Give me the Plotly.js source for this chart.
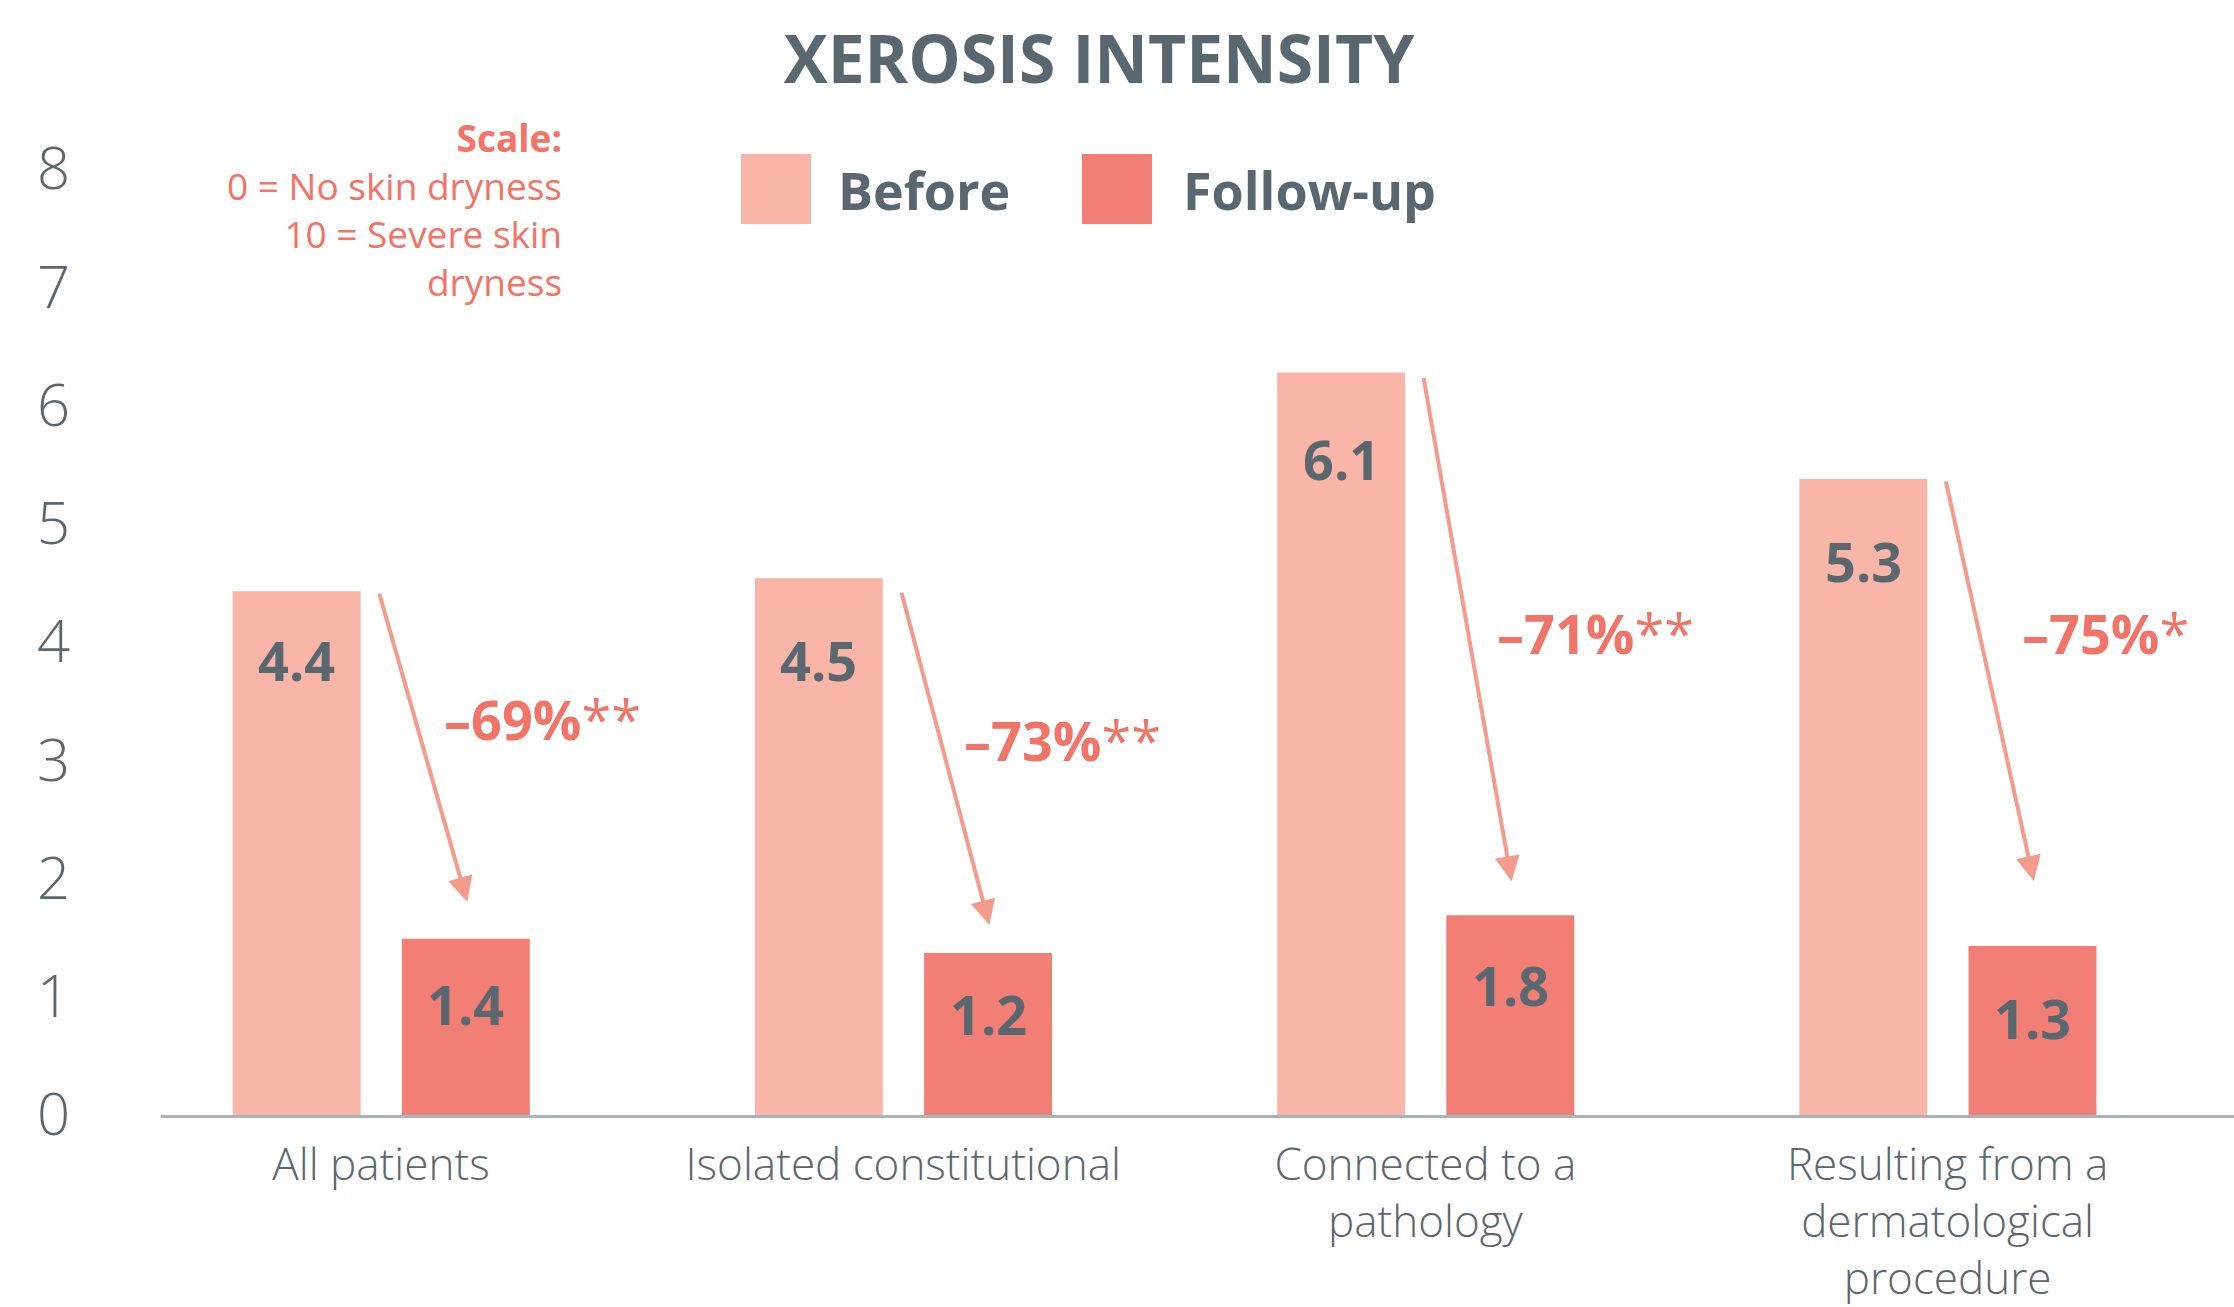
<!DOCTYPE html>
<html>
<head>
<meta charset="utf-8">
<script src="https://cdn.plot.ly/plotly-3.0.1.min.js"></script>
<style>
  html, body { margin: 0; padding: 0; background: #ffffff; }
  #chart { width: 2234px; height: 1307px; }
</style>
</head>
<body>
<div id="chart"></div>
<script>
// ---------- data ----------
const categories = ['All patients', 'Isolated constitutional', 'Connected to a pathology', 'Resulting from a dermatological procedure'];
const tickLabels = ['All patients', 'Isolated constitutional', 'Connected to a<br>pathology', 'Resulting from a<br>dermatological<br>procedure'];
const beforeValues = [4.43, 4.54, 6.28, 5.38];
const followUpValues = [1.49, 1.37, 1.69, 1.43];
const beforeLabels = ['4.4', '4.5', '6.1', '5.3'];
const followUpLabels = ['1.4', '1.2', '1.8', '1.3'];
const changeLabels = ['–69%', '–73%', '–71%', '–75%'];
const significance = ['**', '**', '**', '*'];
const yTicks = [0, 1, 2, 3, 4, 5, 6, 7, 8];
const seriesNames = ['Before', 'Follow-up'];
const scaleNote = ['Scale:', '0 = No skin dryness', '10 = Severe skin', 'dryness'];

// ---------- layout constants (positions / styles) ----------
const W = 2234, H = 1307;
const M = { l: 161, r: 0, t: 110, b: 192 };
const Y_MAX = 8.5;
const plotH = H - M.t - M.b;
const pxPerUnit = plotH / Y_MAX;
const FONT = '"Open Sans", "Noto Sans", sans-serif';
const SLATE = '#5b676f';
const C_BEFORE = '#f8b5a8';
const C_FOLLOW = '#f27f75';
const C_ARROW = '#f49b8c';
const C_PCT = '#f07468';
const BAR_W = 0.245, OFF_BEFORE = -0.284, OFF_FOLLOW = 0.040;
const labelOffsetBefore = [69, 82, 87, 82];
const labelOffsetFollow = [65, 61, 70, 72];
const arrowStartGap = [1, 13, 4, 1];
const arrowTipGap = [37, 28, 34, 65];
const arrowTipDx = 0.165;
const pctDx = [0.116, 0.113, 0.133, 0.139];
const pctY = [3.35, 3.17, 4.08, 4.08];

const px = x => (x - M.l) / (W - M.l - M.r);
const py = y => (H - M.b - y) / plotH;

const traces = [
  {
    type: 'bar', name: seriesNames[0], x: categories, y: beforeValues,
    width: BAR_W, offset: OFF_BEFORE,
    marker: { color: C_BEFORE, line: { width: 0 } },
    hoverinfo: 'skip', showlegend: false
  },
  {
    type: 'bar', name: seriesNames[1], x: categories, y: followUpValues,
    width: BAR_W, offset: OFF_FOLLOW,
    marker: { color: C_FOLLOW, line: { width: 0 } },
    hoverinfo: 'skip', showlegend: false
  }
];

const annotations = [];
const shapes = [];

categories.forEach((c, i) => {
  // value labels
  annotations.push({
    x: i + OFF_BEFORE + BAR_W / 2, y: beforeValues[i], xref: 'x', yref: 'y',
    text: '<b>' + beforeLabels[i] + '</b>', showarrow: false,
    xanchor: 'center', yanchor: 'middle', yshift: -labelOffsetBefore[i],
    font: { family: FONT, size: 54, color: SLATE }
  });
  annotations.push({
    x: i + OFF_FOLLOW + BAR_W / 2, y: followUpValues[i], xref: 'x', yref: 'y',
    text: '<b>' + followUpLabels[i] + '</b>', showarrow: false,
    xanchor: 'center', yanchor: 'middle', yshift: -labelOffsetFollow[i],
    font: { family: FONT, size: 54, color: SLATE }
  });
  // arrows
  annotations.push({
    x: i + arrowTipDx, y: followUpValues[i] + arrowTipGap[i] / pxPerUnit,
    xref: 'x', yref: 'y',
    ax: i - 0.004, ay: beforeValues[i] - arrowStartGap[i] / pxPerUnit,
    axref: 'x', ayref: 'y',
    text: '', showarrow: true, arrowhead: 2, arrowsize: 1.25, arrowwidth: 4,
    arrowcolor: C_ARROW, standoff: 0, startstandoff: 0
  });
  // change labels
  annotations.push({
    x: i + pctDx[i], y: pctY[i], xref: 'x', yref: 'y',
    text: '<b>' + changeLabels[i] + '</b>' + significance[i], showarrow: false,
    xanchor: 'left', yanchor: 'middle',
    font: { family: FONT, size: 54, color: C_PCT }
  });
});

// scale note (one right-aligned block)
annotations.push({
  x: px(564), y: py(110), xref: 'paper', yref: 'paper',
  text: scaleNote.map((t, k) => k === 0 ? '<b>' + t + '</b>' : t).join('<br>'),
  showarrow: false, align: 'right',
  xanchor: 'right', yanchor: 'top',
  font: { family: FONT, size: 37, color: '#f47366' }
});

// legend
const legendItems = [
  { name: seriesNames[0], color: C_BEFORE, x0: 741, tx: 836 },
  { name: seriesNames[1], color: C_FOLLOW, x0: 1082, tx: 1181 }
];
legendItems.forEach(it => {
  shapes.push({
    type: 'rect', xref: 'paper', yref: 'paper',
    x0: px(it.x0), x1: px(it.x0 + 70), y0: py(224), y1: py(154),
    fillcolor: it.color, line: { width: 0 }
  });
  annotations.push({
    x: px(it.tx), y: py(189), xref: 'paper', yref: 'paper',
    text: '<b>' + it.name + '</b>', showarrow: false,
    xanchor: 'left', yanchor: 'middle',
    font: { family: FONT, size: 52, color: SLATE }
  });
});

const layout = {
  width: W, height: H,
  margin: M,
  paper_bgcolor: '#ffffff', plot_bgcolor: '#ffffff',
  font: { family: FONT, color: SLATE },
  title: {
    text: '<b>XEROSIS INTENSITY</b>',
    x: 1099 / W, xref: 'container', xanchor: 'center',
    y: 1 - 60 / H, yref: 'container', yanchor: 'middle',
    font: { family: FONT, size: 66, color: SLATE }
  },
  barmode: 'group',
  showlegend: false,
  xaxis: {
    type: 'category', range: [-0.4213, 3.5484],
    tickvals: categories, ticktext: tickLabels,
    tickfont: { family: FONT, size: 44, weight: 300, color: SLATE },
    showline: true, linecolor: '#a9b3ba', linewidth: 3,
    ticks: '', showgrid: false, zeroline: false,
    layer: 'below traces', automargin: false, fixedrange: true,
    ticklabelstandoff: 9
  },
  yaxis: {
    range: [0, Y_MAX], tickvals: yTicks,
    tickfont: { family: FONT, size: 58, weight: 300, color: SLATE },
    showline: false, showgrid: false, zeroline: false, ticks: '',
    automargin: false, fixedrange: true, ticklabelstandoff: 90
  },
  annotations: annotations,
  shapes: shapes
};

Plotly.newPlot('chart', traces, layout, { staticPlot: true, displayModeBar: false });
</script>
</body>
</html>
